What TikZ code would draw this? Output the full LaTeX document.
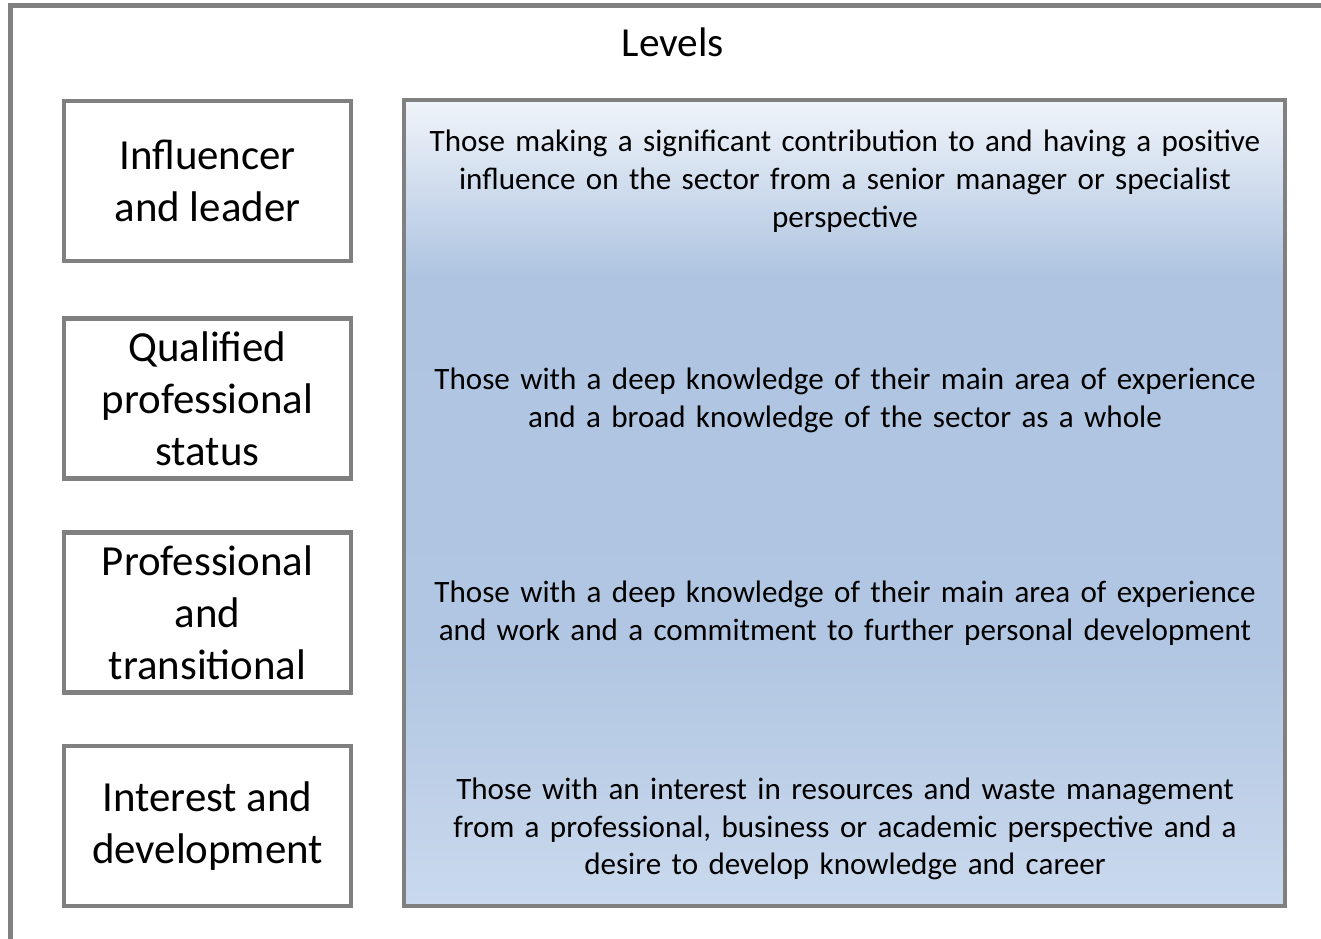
\documentclass[tikz,border=0pt]{standalone}
\usepackage{fontspec}
\setmainfont{Carlito}
\usepackage{tikz}
\usetikzlibrary{positioning}

\definecolor{framegray}{HTML}{808080}
\definecolor{levtop}{HTML}{F0F4FA}
\definecolor{levmid}{HTML}{AEC4E0}
\definecolor{levlow}{HTML}{B1C6E2}
\definecolor{levbot}{HTML}{CAD9ED}
\pgfdeclareverticalshading{levelshade}{100bp}{
    color(0bp)=(levbot); color(25bp)=(levbot); color(41bp)=(levlow);
    color(64bp)=(levmid); color(75bp)=(levtop); color(100bp)=(levtop)}

\tikzset{
    levelbox/.style={draw=framegray, line width=2.5pt, fill=white,
        minimum width=5.74cm, minimum height=3.2cm, inner sep=0pt,
        align=center, font=\fontsize{24.4}{29.5}\selectfont},
    desc/.style={align=center, text width=17cm, inner sep=0pt,
        font=\fontsize{17.7}{21.5}\selectfont}
}

\begin{document}
\begin{tikzpicture}[x=0.02cm, y=-0.02cm]
    \useasboundingbox (0, 0) rectangle (1321, 939);

    % Outer frame, running off the right and bottom
    \draw[framegray, line width=2.8pt] (10.5, 945) -- (10.5, 5.5) -- (1330, 5.5);
    \node[font=\fontsize{23.5}{27}\selectfont] (title) at (673, 42) {Levels};

    % The shaded panel behind the descriptions
    \node[draw=framegray, line width=2.5pt, shading=levelshade,
        minimum width=17.62cm, minimum height=16.12cm, inner sep=0pt]
        (panel) at (844.5, 503) {};

    % Level boxes
    \node[levelbox] (lead) at (207.5, 181) {Influencer\\and leader};
    \node[levelbox] (qual) at (207.5, 398.5) {Qualified\\professional\\status};
    \node[levelbox] (trans) at (207.5, 612.5) {Professional\\and\\transitional};
    \node[levelbox] (intr) at (207.5, 826) {Interest and\\development};

    % Descriptions
    \node[desc] (leaddesc) at (845, 181) {Those making a significant contribution to and having a positive\\influence on the sector from a senior manager or specialist\\perspective};
    \node[desc] (qualdesc) at (845, 400) {Those with a deep knowledge of their main area of experience\\and a broad knowledge of the sector as a whole};
    \node[desc] (transdesc) at (845, 613) {Those with a deep knowledge of their main area of experience\\and work and a commitment to further personal development};
    \node[desc] (intrdesc) at (845, 829) {Those with an interest in resources and waste management\\from a professional, business or academic perspective and a\\desire to develop knowledge and career};
\end{tikzpicture}
\end{document}
